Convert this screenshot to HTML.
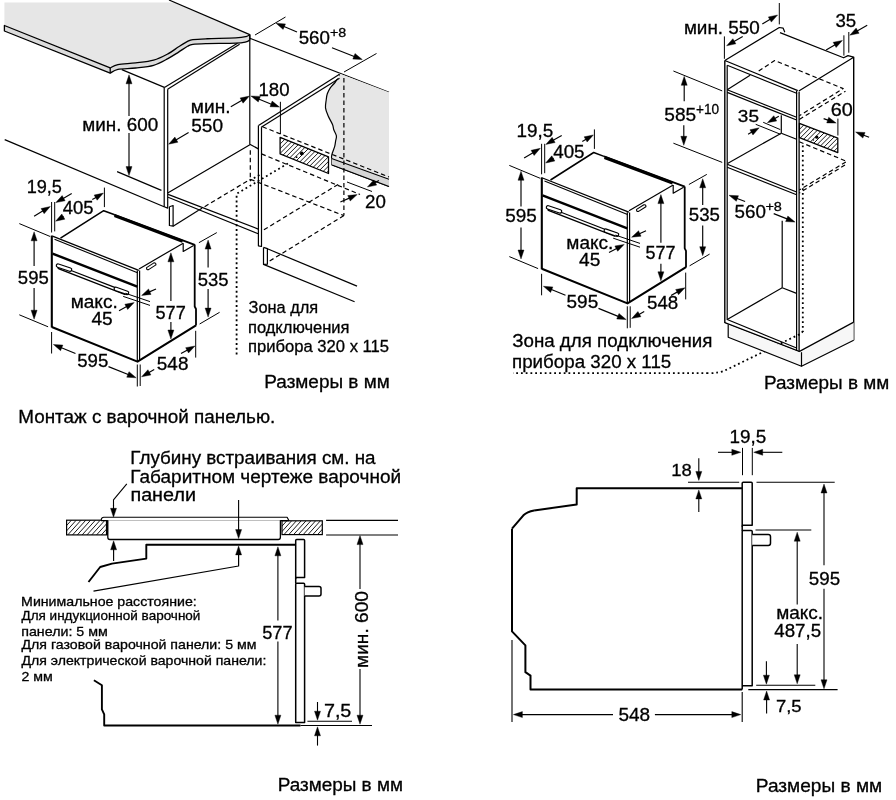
<!DOCTYPE html>
<html><head><meta charset="utf-8"><style>
html,body{margin:0;padding:0;background:#fff;}
svg{display:block;will-change:transform;}
text{font-family:"Liberation Sans",sans-serif;fill:#000;stroke:#000;stroke-width:0.3px;}
</style></head><body>
<svg width="896" height="800" viewBox="0 0 896 800">
<path d="M4.4,2.5 L174,2.5 L249.8,34.7 L249.8,34.7 C249.17,35.02 248.35,36.07 246,36.6 C243.65,37.13 242.18,37.54 235.7,37.9 C229.22,38.26 214.23,38.47 207.1,38.75 C199.97,39.03 196.17,39.16 192.9,39.6 C189.63,40.04 189.88,40.2 187.5,41.4 C185.12,42.6 181.87,44.72 178.6,46.8 C175.33,48.88 172.07,51.67 167.9,53.9 C163.73,56.13 158.97,58.7 153.6,60.2 C148.23,61.7 141.65,62.17 135.7,62.9 C129.75,63.63 122.15,63.77 117.9,64.6 C113.65,65.43 111.48,67.35 110.2,67.9 L4.4,25.5 Z" fill="#e6e6e6" stroke-linejoin="round"/>
<path d="M4.4,25.5 L110.2,67.9 L110.2,67.9 C111.48,67.35 113.65,65.43 117.9,64.6 C122.15,63.77 129.75,63.63 135.7,62.9 C141.65,62.17 148.23,61.7 153.6,60.2 C158.97,58.7 163.73,56.13 167.9,53.9 C172.07,51.67 175.33,48.88 178.6,46.8 C181.87,44.72 185.12,42.6 187.5,41.4 C189.88,40.2 189.63,40.04 192.9,39.6 C196.17,39.16 199.97,39.03 207.1,38.75 C214.23,38.47 229.22,38.26 235.7,37.9 C242.18,37.54 243.65,37.13 246,36.6 C248.35,36.07 249.17,35.02 249.8,34.7 L249.8,40 L249.8,40 C249.17,40.32 248.35,41.37 246,41.9 C243.65,42.43 242.18,42.92 235.7,43.2 C229.22,43.48 214.23,43.42 207.1,43.6 C199.97,43.78 196.17,43.85 192.9,44.3 C189.63,44.75 189.88,45 187.5,46.3 C185.12,47.6 181.87,50.05 178.6,52.1 C175.33,54.15 172.07,56.4 167.9,58.6 C163.73,60.8 158.97,63.73 153.6,65.3 C148.23,66.87 141.65,67.33 135.7,68 C129.75,68.67 122.15,68.43 117.9,69.3 C113.65,70.17 111.48,72.55 110.2,73.2 L4.4,31 Z" fill="#dcdcdc" stroke="#000" stroke-width="1.3" stroke-linejoin="round"/>
<polyline points="110.2,67.9 110.2,73.2" fill="none" stroke="#000" stroke-width="1.3" stroke-linecap="butt" stroke-linejoin="round"/>
<polyline points="169,0 249.8,34.6" fill="none" stroke="#000" stroke-width="1.2" stroke-linecap="butt" stroke-linejoin="round"/>
<polyline points="121.8,69.6 164.4,87.4" fill="none" stroke="#000" stroke-width="1.2" stroke-linecap="butt" stroke-linejoin="round"/>
<polyline points="164.4,87.4 237.5,43.2" fill="none" stroke="#000" stroke-width="1.2" stroke-linecap="butt" stroke-linejoin="round"/>
<polyline points="167.6,89.2 239.6,44.2" fill="none" stroke="#000" stroke-width="1.2" stroke-linecap="butt" stroke-linejoin="round"/>
<polyline points="164.2,87.2 164.2,206.8 167.7,208.1 167.7,89.2" fill="none" stroke="#000" stroke-width="1.2" stroke-linecap="butt" stroke-linejoin="round"/>
<polyline points="169.4,206.8 173.1,205.5 173.1,226.2 169.4,225.5 169.4,206.8" fill="none" stroke="#000" stroke-width="1.2" stroke-linecap="butt" stroke-linejoin="round"/>
<polyline points="173.1,226.2 198.2,210.5" fill="none" stroke="#000" stroke-width="1.2" stroke-linecap="butt" stroke-linejoin="round"/>
<polyline points="198.2,210.5 250.3,179.3" fill="none" stroke="#000" stroke-width="1.2" stroke-linecap="butt" stroke-linejoin="round" stroke-dasharray="4.5,3"/>
<polyline points="4.7,139.6 164.1,206.8" fill="none" stroke="#000" stroke-width="1.2" stroke-linecap="butt" stroke-linejoin="round"/>
<polyline points="117.1,171.6 161.4,190.4" fill="none" stroke="#000" stroke-width="1.2" stroke-linecap="butt" stroke-linejoin="round"/>
<polyline points="167.7,193.1 250.3,144.5 258.3,148.9" fill="none" stroke="#000" stroke-width="1.2" stroke-linecap="butt" stroke-linejoin="round"/>
<polyline points="168.1,194.4 258.3,229.1" fill="none" stroke="#000" stroke-width="1.2" stroke-linecap="butt" stroke-linejoin="round"/>
<polyline points="168.1,197.3 258.3,233.8" fill="none" stroke="#000" stroke-width="1.2" stroke-linecap="butt" stroke-linejoin="round"/>
<polyline points="249.8,34.6 249.8,144.5" fill="none" stroke="#000" stroke-width="1.2" stroke-linecap="butt" stroke-linejoin="round"/>
<polyline points="250.3,150.3 250.3,179.3" fill="none" stroke="#000" stroke-width="1.2" stroke-linecap="butt" stroke-linejoin="round" stroke-dasharray="4.5,3"/>
<polyline points="249.8,38.2 389,92.2" fill="none" stroke="#000" stroke-width="1.2" stroke-linecap="butt" stroke-linejoin="round"/>
<path d="M339.4,73.6 L389,92.2 L389,178 L331.6,158.5 L331.6,158.5 C331.6,158.08 331.45,157 331.6,156 C331.75,155 331.98,154.1 332.5,152.5 C333.02,150.9 334.18,148.3 334.7,146.4 C335.22,144.5 335.32,142.85 335.6,141.1 C335.88,139.35 336.7,137.79 336.4,135.9 C336.1,134.01 334.45,131.65 333.8,129.75 C333.15,127.85 333.45,126.83 332.5,124.5 C331.55,122.17 329.27,118.52 328.1,115.75 C326.93,112.98 325.82,110.53 325.5,107.9 C325.18,105.28 325.9,102.35 326.2,100 C326.5,97.65 326.62,95.83 327.3,93.8 C327.98,91.77 328.93,89.8 330.3,87.8 C331.67,85.8 333.98,84.05 335.5,81.8 C337.02,79.55 338.75,75.55 339.4,74.3 Z" fill="#e6e6e6" stroke-linejoin="round"/>
<path d="M339.4,74.3 C338.75,75.55 337.02,79.55 335.5,81.8 C333.98,84.05 331.67,85.8 330.3,87.8 C328.93,89.8 327.98,91.77 327.3,93.8 C326.62,95.83 326.5,97.65 326.2,100 C325.9,102.35 325.18,105.28 325.5,107.9 C325.82,110.53 326.93,112.98 328.1,115.75 C329.27,118.52 331.55,122.17 332.5,124.5 C333.45,126.83 333.15,127.85 333.8,129.75 C334.45,131.65 336.1,134.01 336.4,135.9 C336.7,137.79 335.88,139.35 335.6,141.1 C335.32,142.85 335.22,144.5 334.7,146.4 C334.18,148.3 333.02,150.9 332.5,152.5 C331.98,154.1 331.75,155 331.6,156 C331.45,157 331.6,158.08 331.6,158.5" fill="none" stroke="#000" stroke-width="1.2" stroke-linejoin="round"/>
<polyline points="331.6,158.5 331.6,164.8 389,186.5" fill="none" stroke="#000" stroke-width="1.2" stroke-linecap="butt" stroke-linejoin="round"/>
<polygon points="331.6,158.5 389,179.2 389,186.5 331.6,164.8" fill="#d6d6d6" stroke-linejoin="round"/>
<polyline points="331.6,158.5 389,179.2" fill="none" stroke="#000" stroke-width="1.2" stroke-linecap="butt" stroke-linejoin="round"/>
<polyline points="332,165 389,186.5" fill="none" stroke="#000" stroke-width="1.2" stroke-linecap="butt" stroke-linejoin="round"/>
<polyline points="343.9,78 343.9,215.6" fill="none" stroke="#000" stroke-width="1.2" stroke-linecap="butt" stroke-linejoin="round" stroke-dasharray="4.5,3"/>
<polygon points="258.5,125.4 339,74.5 339,77.5 261.2,126.8" fill="#fff" stroke-linejoin="round"/>
<polyline points="258.5,125.4 339.5,74.2" fill="none" stroke="#000" stroke-width="1.2" stroke-linecap="butt" stroke-linejoin="round"/>
<polyline points="261.2,127.2 339.5,78.2" fill="none" stroke="#000" stroke-width="1.2" stroke-linecap="butt" stroke-linejoin="round"/>
<polyline points="258.4,125.4 258.4,245.8 261.5,246.5 261.5,127.2" fill="none" stroke="#000" stroke-width="1.2" stroke-linecap="butt" stroke-linejoin="round"/>
<polyline points="263.5,247.4 267.4,248.6 267.4,264.2 263.5,264.4 263.5,247.4" fill="none" stroke="#000" stroke-width="1.2" stroke-linecap="butt" stroke-linejoin="round"/>
<polyline points="267.4,248.8 357,286.1" fill="none" stroke="#000" stroke-width="1.2" stroke-linecap="butt" stroke-linejoin="round"/>
<polyline points="263.5,264.4 354.6,301.7" fill="none" stroke="#000" stroke-width="1.2" stroke-linecap="butt" stroke-linejoin="round"/>
<polyline points="262.5,126.8 389,177" fill="none" stroke="#000" stroke-width="1.2" stroke-linecap="butt" stroke-linejoin="round" stroke-dasharray="4.5,3"/>
<polyline points="261.5,153.9 360,194.5" fill="none" stroke="#000" stroke-width="1.2" stroke-linecap="butt" stroke-linejoin="round" stroke-dasharray="4.5,3"/>
<polyline points="250.3,179.3 343.9,215.6" fill="none" stroke="#000" stroke-width="1.2" stroke-linecap="butt" stroke-linejoin="round" stroke-dasharray="4.5,3"/>
<polyline points="338.1,184.4 262,231" fill="none" stroke="#000" stroke-width="1.2" stroke-linecap="butt" stroke-linejoin="round" stroke-dasharray="4.5,3"/>
<polyline points="343.9,215.6 267,262.6" fill="none" stroke="#000" stroke-width="1.2" stroke-linecap="butt" stroke-linejoin="round" stroke-dasharray="4.5,3"/>
<polyline points="288,163.4 236.6,193.8 236.6,357" fill="none" stroke="#000" stroke-width="1.8" stroke-linecap="butt" stroke-linejoin="round" stroke-dasharray="1.8,2.95"/>
<polyline points="249.7,180.6 262,173.5" fill="none" stroke="#000" stroke-width="1.8" stroke-linecap="butt" stroke-linejoin="round" stroke-dasharray="1.8,2.95"/>
<clipPath id="hc1"><polygon points="280.1,137.3 328.5,156.8 328.5,173.5 280.1,153.9"/></clipPath>
<g clip-path="url(#hc1)" stroke="#000" stroke-width="0.9"><line x1="230.00" y1="180" x2="280.00" y2="130"/><line x1="234.70" y1="180" x2="284.70" y2="130"/><line x1="239.40" y1="180" x2="289.40" y2="130"/><line x1="244.10" y1="180" x2="294.10" y2="130"/><line x1="248.80" y1="180" x2="298.80" y2="130"/><line x1="253.50" y1="180" x2="303.50" y2="130"/><line x1="258.20" y1="180" x2="308.20" y2="130"/><line x1="262.90" y1="180" x2="312.90" y2="130"/><line x1="267.60" y1="180" x2="317.60" y2="130"/><line x1="272.30" y1="180" x2="322.30" y2="130"/><line x1="277.00" y1="180" x2="327.00" y2="130"/><line x1="281.70" y1="180" x2="331.70" y2="130"/><line x1="286.40" y1="180" x2="336.40" y2="130"/><line x1="291.10" y1="180" x2="341.10" y2="130"/><line x1="295.80" y1="180" x2="345.80" y2="130"/><line x1="300.50" y1="180" x2="350.50" y2="130"/><line x1="305.20" y1="180" x2="355.20" y2="130"/><line x1="309.90" y1="180" x2="359.90" y2="130"/><line x1="314.60" y1="180" x2="364.60" y2="130"/><line x1="319.30" y1="180" x2="369.30" y2="130"/><line x1="324.00" y1="180" x2="374.00" y2="130"/><line x1="328.70" y1="180" x2="378.70" y2="130"/><line x1="333.40" y1="180" x2="383.40" y2="130"/><line x1="338.10" y1="180" x2="388.10" y2="130"/><line x1="342.80" y1="180" x2="392.80" y2="130"/><line x1="347.50" y1="180" x2="397.50" y2="130"/><line x1="352.20" y1="180" x2="402.20" y2="130"/><line x1="356.90" y1="180" x2="406.90" y2="130"/><line x1="361.60" y1="180" x2="411.60" y2="130"/><line x1="366.30" y1="180" x2="416.30" y2="130"/></g>
<polygon points="280.1,137.3 328.5,156.8 328.5,173.5 280.1,153.9" fill="none" stroke="#000" stroke-width="1.3" stroke-linejoin="round"/>
<circle cx="301.8" cy="153.4" r="1.9" fill="#000"/><circle cx="296.6" cy="157.2" r="0.9" fill="#000"/>
<polyline points="280.4,101.8 280.4,134" fill="none" stroke="#000" stroke-width="1.0" stroke-linecap="butt" stroke-linejoin="round"/>
<polygon points="250.9,96 260.38,96.39 258.25,102" fill="#000" stroke="#000" stroke-width="0.4" stroke-linejoin="round"/>
<polygon points="279.5,107.1 270.02,106.71 272.15,101.1" fill="#000" stroke="#000" stroke-width="0.4" stroke-linejoin="round"/>
<polyline points="258,98.7 272,104.4" fill="none" stroke="#000" stroke-width="1.1" stroke-linecap="butt" stroke-linejoin="round"/>
<text transform="translate(258.40,96.40) scale(1.0361,1)" font-size="18">180</text>
<polyline points="230.8,106.7 242.45,100.06" fill="none" stroke="#000" stroke-width="1.15" stroke-linecap="butt" stroke-linejoin="round"/>
<polygon points="249.4,96.1 243.07,103.16 240.1,97.95" fill="#000" stroke="#000" stroke-width="0.4" stroke-linejoin="round"/>
<polyline points="188.6,132.6 175.52,140.19" fill="none" stroke="#000" stroke-width="1.15" stroke-linecap="butt" stroke-linejoin="round"/>
<polygon points="168.6,144.2 174.88,137.09 177.89,142.28" fill="#000" stroke="#000" stroke-width="0.4" stroke-linejoin="round"/>
<text transform="translate(190.86,112.50) scale(1.0859,1)" font-size="17.6">мин.</text>
<text transform="translate(191.24,131.80) scale(1.0828,1)" font-size="17.6">550</text>
<polyline points="129,116 129,82.8" fill="none" stroke="#000" stroke-width="1.15" stroke-linecap="butt" stroke-linejoin="round"/>
<polygon points="129,74.8 132,83.8 126,83.8" fill="#000" stroke="#000" stroke-width="0.4" stroke-linejoin="round"/>
<polyline points="129,133 129,167.6" fill="none" stroke="#000" stroke-width="1.15" stroke-linecap="butt" stroke-linejoin="round"/>
<polygon points="129,175.6 126,166.6 132,166.6" fill="#000" stroke="#000" stroke-width="0.4" stroke-linejoin="round"/>
<text transform="translate(82.28,130.50) scale(1.0487,1)" font-size="18">мин. 600</text>
<polyline points="255,35 285.5,17" fill="none" stroke="#000" stroke-width="1.0" stroke-linecap="butt" stroke-linejoin="round"/>
<polyline points="344,72 376.5,53.5" fill="none" stroke="#000" stroke-width="1.0" stroke-linecap="butt" stroke-linejoin="round"/>
<polyline points="297,32 283.38,26.29" fill="none" stroke="#000" stroke-width="1.15" stroke-linecap="butt" stroke-linejoin="round"/>
<polygon points="276,23.2 285.46,23.91 283.14,29.45" fill="#000" stroke="#000" stroke-width="0.4" stroke-linejoin="round"/>
<polyline points="332,47.7 354.85,56.68" fill="none" stroke="#000" stroke-width="1.15" stroke-linecap="butt" stroke-linejoin="round"/>
<polygon points="362.3,59.6 352.83,59.1 355.02,53.52" fill="#000" stroke="#000" stroke-width="0.4" stroke-linejoin="round"/>
<text transform="translate(298.65,44.10) scale(1.0298,1)" font-size="18.2">560</text>
<text transform="translate(329.89,36.70) scale(1.0582,1)" font-size="13.5">+8</text>
<polyline points="347,182 372,191.5" fill="none" stroke="#000" stroke-width="1.0" stroke-linecap="butt" stroke-linejoin="round"/>
<polyline points="340.4,202.1 349.89,197.86" fill="none" stroke="#000" stroke-width="1.15" stroke-linecap="butt" stroke-linejoin="round"/>
<polygon points="357.2,194.6 350.2,201.01 347.76,195.53" fill="#000" stroke="#000" stroke-width="0.4" stroke-linejoin="round"/>
<polyline points="378.9,180.4 374.34,183.02" fill="none" stroke="#000" stroke-width="1.15" stroke-linecap="butt" stroke-linejoin="round"/>
<polygon points="367.4,187 373.71,179.92 376.7,185.12" fill="#000" stroke="#000" stroke-width="0.4" stroke-linejoin="round"/>
<text transform="translate(365.06,208.00) scale(1.0407,1)" font-size="18">20</text>
<polygon points="51.8,236.3 60.5,238 103.7,210.7 194.8,244.9 196,325.4 137.5,361.6 51.8,327" fill="#fff" stroke-linejoin="round"/>
<polyline points="51.8,235.5 51.8,327.5" fill="none" stroke="#000" stroke-width="2.1" stroke-linecap="butt" stroke-linejoin="round"/>
<polyline points="51.8,327 137.5,361.6 196,325.4" fill="none" stroke="#000" stroke-width="2.1" stroke-linecap="butt" stroke-linejoin="round"/>
<polyline points="52.5,236.2 138.8,270.4" fill="none" stroke="#000" stroke-width="1.3" stroke-linecap="butt" stroke-linejoin="round"/>
<polyline points="54.5,239.2 137.5,272.7" fill="none" stroke="#000" stroke-width="1.1" stroke-linecap="butt" stroke-linejoin="round"/>
<polyline points="52.5,253.6 137.3,286.6" fill="none" stroke="#000" stroke-width="2.4" stroke-linecap="butt" stroke-linejoin="round"/>
<polyline points="137.3,270.4 137.3,361.6" fill="none" stroke="#000" stroke-width="1.2" stroke-linecap="butt" stroke-linejoin="round"/>
<polyline points="139.6,270.6 139.6,360.4" fill="none" stroke="#000" stroke-width="1.2" stroke-linecap="butt" stroke-linejoin="round"/>
<polyline points="60.5,238.2 103.7,210.7 114,214.57" fill="none" stroke="#000" stroke-width="1.5" stroke-linecap="butt" stroke-linejoin="round"/>
<polyline points="114,214.57 194.8,244.9" fill="none" stroke="#000" stroke-width="1.9" stroke-linecap="butt" stroke-linejoin="round"/>
<polyline points="114.5,215.7 182.6,241.3" fill="none" stroke="#000" stroke-width="3.0" stroke-linecap="butt" stroke-linejoin="round"/>
<polyline points="183.2,243.2 183.2,251.4 193.6,245.4" fill="none" stroke="#000" stroke-width="1.2" stroke-linecap="butt" stroke-linejoin="round"/>
<polyline points="139,268.9 183.2,243.2" fill="none" stroke="#000" stroke-width="1.2" stroke-linecap="butt" stroke-linejoin="round"/>
<polyline points="194.7,244.6 194.7,306.5 196,309 196,325.6" fill="none" stroke="#000" stroke-width="1.8" stroke-linecap="butt" stroke-linejoin="round"/>
<path d="M146.6,267.6 l7.3,-4.7 q2,-0.2 2,1.4 v0.6 l-7.3,4.7 q-2,0.4 -2,-1.2 z" fill="#fff" stroke="#000" stroke-width="1.1" stroke-linejoin="round"/>
<polyline points="59.5,267.6 124.6,292.8" fill="none" stroke="#000" stroke-width="4.2" stroke-linecap="round" stroke-linejoin="round"/>
<polyline points="60.3,267.8 123.8,292.4" fill="none" stroke="#fff" stroke-width="1.6" stroke-linecap="round" stroke-linejoin="round"/>
<polyline points="58,265.6 70,269.6" fill="none" stroke="#000" stroke-width="4.6" stroke-linecap="round" stroke-linejoin="round"/>
<polyline points="58,265.6 70,269.6" fill="none" stroke="#fff" stroke-width="2.2" stroke-linecap="round" stroke-linejoin="round"/>
<polyline points="115.8,288.9 127,292.8" fill="none" stroke="#000" stroke-width="4.6" stroke-linecap="round" stroke-linejoin="round"/>
<polyline points="115.8,288.9 127,292.8" fill="none" stroke="#fff" stroke-width="2.2" stroke-linecap="round" stroke-linejoin="round"/>
<polyline points="125.5,293.3 150,301.6" fill="none" stroke="#000" stroke-width="1.0" stroke-linecap="butt" stroke-linejoin="round"/>
<polyline points="123.2,296.4 150,305.4" fill="none" stroke="#000" stroke-width="1.0" stroke-linecap="butt" stroke-linejoin="round"/>
<polyline points="156,288.9 148.89,292.11" fill="none" stroke="#000" stroke-width="1.15" stroke-linecap="butt" stroke-linejoin="round"/>
<polygon points="141.6,295.4 148.57,288.96 151.04,294.43" fill="#000" stroke="#000" stroke-width="0.4" stroke-linejoin="round"/>
<polyline points="119,310.7 127.14,306.36" fill="none" stroke="#000" stroke-width="1.15" stroke-linecap="butt" stroke-linejoin="round"/>
<polygon points="134.2,302.6 127.67,309.48 124.85,304.19" fill="#000" stroke="#000" stroke-width="0.4" stroke-linejoin="round"/>
<text transform="translate(70.67,308.10) scale(1.0295,1)" font-size="18.5">макс.</text>
<text transform="translate(91.42,325.20) scale(1.0877,1)" font-size="17.6">45</text>
<polyline points="51.6,202 51.6,232.5" fill="none" stroke="#000" stroke-width="1.0" stroke-linecap="butt" stroke-linejoin="round"/>
<polyline points="54.7,202 54.7,231.4" fill="none" stroke="#000" stroke-width="1.0" stroke-linecap="butt" stroke-linejoin="round"/>
<polyline points="34.1,216.2 43.44,210.61" fill="none" stroke="#000" stroke-width="1.15" stroke-linecap="butt" stroke-linejoin="round"/>
<polygon points="50.3,206.5 44.12,213.7 41.04,208.55" fill="#000" stroke="#000" stroke-width="0.4" stroke-linejoin="round"/>
<polyline points="71.7,193.6 62.76,198.66" fill="none" stroke="#000" stroke-width="1.15" stroke-linecap="butt" stroke-linejoin="round"/>
<polygon points="55.8,202.6 62.15,195.56 65.11,200.78" fill="#000" stroke="#000" stroke-width="0.4" stroke-linejoin="round"/>
<text transform="translate(26.64,192.60) scale(1.0308,1)" font-size="17.6">19,5</text>
<polyline points="104.4,187.6 104.4,207.1" fill="none" stroke="#000" stroke-width="1.0" stroke-linecap="butt" stroke-linejoin="round"/>
<polyline points="92.3,199.6 96.5,197.14" fill="none" stroke="#000" stroke-width="1.15" stroke-linecap="butt" stroke-linejoin="round"/>
<polygon points="103.4,193.1 97.15,200.24 94.12,195.06" fill="#000" stroke="#000" stroke-width="0.4" stroke-linejoin="round"/>
<polyline points="63.5,216.5 62.48,217.11" fill="none" stroke="#000" stroke-width="1.15" stroke-linecap="butt" stroke-linejoin="round"/>
<polygon points="55.6,221.2 61.8,214.02 64.87,219.18" fill="#000" stroke="#000" stroke-width="0.4" stroke-linejoin="round"/>
<text transform="translate(62.83,214.20) scale(1.0479,1)" font-size="17.6">405</text>
<polyline points="19.3,223.6 50.2,236.5" fill="none" stroke="#000" stroke-width="1.0" stroke-linecap="butt" stroke-linejoin="round"/>
<polyline points="19.3,314.8 48.1,326.8" fill="none" stroke="#000" stroke-width="1.0" stroke-linecap="butt" stroke-linejoin="round"/>
<polyline points="34.1,266 34.1,239.8" fill="none" stroke="#000" stroke-width="1.15" stroke-linecap="butt" stroke-linejoin="round"/>
<polygon points="34.1,231.8 37.1,240.8 31.1,240.8" fill="#000" stroke="#000" stroke-width="0.4" stroke-linejoin="round"/>
<polyline points="34.1,288 34.1,311.2" fill="none" stroke="#000" stroke-width="1.15" stroke-linecap="butt" stroke-linejoin="round"/>
<polygon points="34.1,319.2 31.1,310.2 37.1,310.2" fill="#000" stroke="#000" stroke-width="0.4" stroke-linejoin="round"/>
<text transform="translate(17.86,284.00) scale(1.0539,1)" font-size="17.6">595</text>
<polyline points="51.6,332 51.6,353.5" fill="none" stroke="#000" stroke-width="1.0" stroke-linecap="butt" stroke-linejoin="round"/>
<polyline points="137.3,364.5 137.3,386.5" fill="none" stroke="#000" stroke-width="1.0" stroke-linecap="butt" stroke-linejoin="round"/>
<polyline points="140.2,364.5 140.2,386" fill="none" stroke="#000" stroke-width="1.0" stroke-linecap="butt" stroke-linejoin="round"/>
<polyline points="75.5,353.5 60.81,347.52" fill="none" stroke="#000" stroke-width="1.15" stroke-linecap="butt" stroke-linejoin="round"/>
<polygon points="53.4,344.5 62.87,345.12 60.6,350.67" fill="#000" stroke="#000" stroke-width="0.4" stroke-linejoin="round"/>
<polyline points="108.5,366.6 128.78,374.8" fill="none" stroke="#000" stroke-width="1.15" stroke-linecap="butt" stroke-linejoin="round"/>
<polygon points="136.2,377.8 126.73,377.21 128.98,371.65" fill="#000" stroke="#000" stroke-width="0.4" stroke-linejoin="round"/>
<text transform="translate(77.26,367.20) scale(1.0575,1)" font-size="17.6">595</text>
<polyline points="195.7,330.8 195.7,357.6" fill="none" stroke="#000" stroke-width="1.0" stroke-linecap="butt" stroke-linejoin="round"/>
<polyline points="154.2,369.6 148.55,372.83" fill="none" stroke="#000" stroke-width="1.15" stroke-linecap="butt" stroke-linejoin="round"/>
<polygon points="141.6,376.8 147.93,369.73 150.9,374.94" fill="#000" stroke="#000" stroke-width="0.4" stroke-linejoin="round"/>
<polyline points="181,353.6 187.97,349.82" fill="none" stroke="#000" stroke-width="1.15" stroke-linecap="butt" stroke-linejoin="round"/>
<polygon points="195,346 188.52,352.93 185.66,347.66" fill="#000" stroke="#000" stroke-width="0.4" stroke-linejoin="round"/>
<text transform="translate(156.84,370.20) scale(1.0754,1)" font-size="17.6">548</text>
<polyline points="198.9,242.7 216.8,232.6" fill="none" stroke="#000" stroke-width="1.0" stroke-linecap="butt" stroke-linejoin="round"/>
<polyline points="199.6,324 219.6,312.3" fill="none" stroke="#000" stroke-width="1.0" stroke-linecap="butt" stroke-linejoin="round"/>
<polyline points="208.1,267.6 208.1,248.1" fill="none" stroke="#000" stroke-width="1.15" stroke-linecap="butt" stroke-linejoin="round"/>
<polygon points="208.1,240.1 211.1,249.1 205.1,249.1" fill="#000" stroke="#000" stroke-width="0.4" stroke-linejoin="round"/>
<polyline points="208.1,289 208.1,309.1" fill="none" stroke="#000" stroke-width="1.15" stroke-linecap="butt" stroke-linejoin="round"/>
<polygon points="208.1,317.1 205.1,308.1 211.1,308.1" fill="#000" stroke="#000" stroke-width="0.4" stroke-linejoin="round"/>
<text transform="translate(197.76,285.50) scale(1.0503,1)" font-size="17.6">535</text>
<polyline points="170.9,301 170.9,260.8" fill="none" stroke="#000" stroke-width="1.15" stroke-linecap="butt" stroke-linejoin="round"/>
<polygon points="170.9,252.8 173.9,261.8 167.9,261.8" fill="#000" stroke="#000" stroke-width="0.4" stroke-linejoin="round"/>
<polyline points="170.9,322 170.9,331" fill="none" stroke="#000" stroke-width="1.15" stroke-linecap="butt" stroke-linejoin="round"/>
<polygon points="170.9,339 167.9,330 173.9,330" fill="#000" stroke="#000" stroke-width="0.4" stroke-linejoin="round"/>
<text transform="translate(155.47,318.60) scale(1.0317,1)" font-size="17.6">577</text>
<text transform="translate(248.53,313.10) scale(1.0055,1)" font-size="16.3">Зона для</text>
<text transform="translate(247.94,332.50) scale(1.0138,1)" font-size="16.3">подключения</text>
<text transform="translate(247.94,351.90) scale(1.0207,1)" font-size="16.3">прибора 320 x 115</text>
<text transform="translate(264.28,388.30) scale(1.0544,1)" font-size="18">Размеры в мм</text>
<polyline points="724.8,60.5 779.3,27.5 783.2,28.2 784.8,32.2" fill="none" stroke="#000" stroke-width="1.2" stroke-linecap="butt" stroke-linejoin="round"/>
<polyline points="780,32.6 843.6,57.8 848,55.6 853.7,57.2 798.8,91" fill="none" stroke="#000" stroke-width="1.2" stroke-linecap="butt" stroke-linejoin="round"/>
<polyline points="724.8,60.5 797.8,90.6" fill="none" stroke="#000" stroke-width="1.3" stroke-linecap="butt" stroke-linejoin="round"/>
<polyline points="727.2,65.3 797.2,93.6" fill="none" stroke="#000" stroke-width="1.1" stroke-linecap="butt" stroke-linejoin="round"/>
<polyline points="724.8,60.5 724.8,323" fill="none" stroke="#000" stroke-width="1.4" stroke-linecap="butt" stroke-linejoin="round"/>
<polyline points="727.2,65.3 727.2,320" fill="none" stroke="#000" stroke-width="1.2" stroke-linecap="butt" stroke-linejoin="round"/>
<polyline points="796.6,91 796.6,351" fill="none" stroke="#000" stroke-width="1.2" stroke-linecap="butt" stroke-linejoin="round"/>
<polyline points="799.1,91.8 799.1,351.6" fill="none" stroke="#000" stroke-width="1.3" stroke-linecap="butt" stroke-linejoin="round"/>
<polyline points="853.7,57.2 853.7,340.2" fill="none" stroke="#000" stroke-width="1.4" stroke-linecap="butt" stroke-linejoin="round"/>
<polyline points="727.2,89.7 796.6,117.3" fill="none" stroke="#000" stroke-width="1.2" stroke-linecap="butt" stroke-linejoin="round"/>
<polyline points="727.2,92.4 796.6,120" fill="none" stroke="#000" stroke-width="1.2" stroke-linecap="butt" stroke-linejoin="round"/>
<polyline points="727.2,89.7 750.1,75.2" fill="none" stroke="#000" stroke-width="1.2" stroke-linecap="butt" stroke-linejoin="round"/>
<polyline points="758.7,71.1 774.7,60.5 843.2,88.6 799.3,115.8" fill="none" stroke="#000" stroke-width="1.2" stroke-linecap="butt" stroke-linejoin="round" stroke-dasharray="4.5,3"/>
<polyline points="799.3,119.4 845.5,91.2" fill="none" stroke="#000" stroke-width="1.2" stroke-linecap="butt" stroke-linejoin="round" stroke-dasharray="4.5,3"/>
<polyline points="781.3,115.3 781.3,133.2" fill="none" stroke="#000" stroke-width="1.2" stroke-linecap="butt" stroke-linejoin="round"/>
<polyline points="781.3,133.2 796.6,139.3" fill="none" stroke="#000" stroke-width="1.2" stroke-linecap="butt" stroke-linejoin="round"/>
<polyline points="727.5,163.4 781.3,133.2" fill="none" stroke="#000" stroke-width="1.2" stroke-linecap="butt" stroke-linejoin="round"/>
<polyline points="727.2,164.2 796.6,192" fill="none" stroke="#000" stroke-width="1.2" stroke-linecap="butt" stroke-linejoin="round"/>
<polyline points="727.2,167.3 796.6,194.8" fill="none" stroke="#000" stroke-width="1.2" stroke-linecap="butt" stroke-linejoin="round"/>
<polyline points="763.2,122.3 780.3,129.6" fill="none" stroke="#000" stroke-width="1.0" stroke-linecap="butt" stroke-linejoin="round"/>
<polyline points="755.7,124.3 780.3,134.2" fill="none" stroke="#000" stroke-width="1.0" stroke-linecap="butt" stroke-linejoin="round"/>
<polyline points="778.8,116.3 774.38,118.78" fill="none" stroke="#000" stroke-width="1.15" stroke-linecap="butt" stroke-linejoin="round"/>
<polygon points="767.4,122.7 773.78,115.68 776.72,120.91" fill="#000" stroke="#000" stroke-width="0.4" stroke-linejoin="round"/>
<polyline points="748.1,134.3 752.3,131.84" fill="none" stroke="#000" stroke-width="1.15" stroke-linecap="butt" stroke-linejoin="round"/>
<polygon points="759.2,127.8 752.95,134.94 749.92,129.76" fill="#000" stroke="#000" stroke-width="0.4" stroke-linejoin="round"/>
<text transform="translate(737.84,121.80) scale(1.1063,1)" font-size="17.2">35</text>
<clipPath id="hc2"><polygon points="799.4,123.4 837.8,138.2 837.8,152.6 799.4,137.6"/></clipPath>
<g clip-path="url(#hc2)" stroke="#000" stroke-width="0.9"><line x1="750.00" y1="160" x2="800.00" y2="110"/><line x1="754.70" y1="160" x2="804.70" y2="110"/><line x1="759.40" y1="160" x2="809.40" y2="110"/><line x1="764.10" y1="160" x2="814.10" y2="110"/><line x1="768.80" y1="160" x2="818.80" y2="110"/><line x1="773.50" y1="160" x2="823.50" y2="110"/><line x1="778.20" y1="160" x2="828.20" y2="110"/><line x1="782.90" y1="160" x2="832.90" y2="110"/><line x1="787.60" y1="160" x2="837.60" y2="110"/><line x1="792.30" y1="160" x2="842.30" y2="110"/><line x1="797.00" y1="160" x2="847.00" y2="110"/><line x1="801.70" y1="160" x2="851.70" y2="110"/><line x1="806.40" y1="160" x2="856.40" y2="110"/><line x1="811.10" y1="160" x2="861.10" y2="110"/><line x1="815.80" y1="160" x2="865.80" y2="110"/><line x1="820.50" y1="160" x2="870.50" y2="110"/><line x1="825.20" y1="160" x2="875.20" y2="110"/><line x1="829.90" y1="160" x2="879.90" y2="110"/><line x1="834.60" y1="160" x2="884.60" y2="110"/><line x1="839.30" y1="160" x2="889.30" y2="110"/><line x1="844.00" y1="160" x2="894.00" y2="110"/><line x1="848.70" y1="160" x2="898.70" y2="110"/><line x1="853.40" y1="160" x2="903.40" y2="110"/><line x1="858.10" y1="160" x2="908.10" y2="110"/><line x1="862.80" y1="160" x2="912.80" y2="110"/><line x1="867.50" y1="160" x2="917.50" y2="110"/><line x1="872.20" y1="160" x2="922.20" y2="110"/><line x1="876.90" y1="160" x2="926.90" y2="110"/><line x1="881.60" y1="160" x2="931.60" y2="110"/><line x1="886.30" y1="160" x2="936.30" y2="110"/></g>
<polygon points="799.4,123.4 837.8,138.2 837.8,152.6 799.4,137.6" fill="none" stroke="#000" stroke-width="1.3" stroke-linejoin="round"/>
<circle cx="816.8" cy="137.2" r="1.6" fill="#000"/><circle cx="813.4" cy="140" r="0.8" fill="#000"/>
<polyline points="799.3,141.8 846.8,161.4 799.3,190" fill="none" stroke="#000" stroke-width="1.2" stroke-linecap="butt" stroke-linejoin="round" stroke-dasharray="4.5,3"/>
<polyline points="845,165 799.3,193" fill="none" stroke="#000" stroke-width="1.2" stroke-linecap="butt" stroke-linejoin="round" stroke-dasharray="4.5,3"/>
<polyline points="802.8,145.4 802.8,332" fill="none" stroke="#000" stroke-width="1.8" stroke-linecap="butt" stroke-linejoin="round" stroke-dasharray="1.8,2.95"/>
<path d="M802.8,331 Q801.5,334 798,335 L727,369.5 Q720,373.3 708,373.2" fill="none" stroke="#000" stroke-width="1.8" stroke-linejoin="round" stroke-dasharray="1.8,2.95"/>
<polyline points="708,373.2 513,373.2" fill="none" stroke="#000" stroke-width="1.8" stroke-linecap="butt" stroke-linejoin="round" stroke-dasharray="1.8,2.95"/>
<polyline points="837.9,118.6 837.9,135.5" fill="none" stroke="#000" stroke-width="1.0" stroke-linecap="butt" stroke-linejoin="round"/>
<polyline points="823.6,118.6 828.67,120.41" fill="none" stroke="#000" stroke-width="1.15" stroke-linecap="butt" stroke-linejoin="round"/>
<polygon points="836.2,123.1 826.72,122.9 828.73,117.25" fill="#000" stroke="#000" stroke-width="0.4" stroke-linejoin="round"/>
<polyline points="869.1,137.3 863.05,134.92" fill="none" stroke="#000" stroke-width="1.15" stroke-linecap="butt" stroke-linejoin="round"/>
<polygon points="855.6,132 865.07,132.5 862.88,138.08" fill="#000" stroke="#000" stroke-width="0.4" stroke-linejoin="round"/>
<text transform="translate(830.81,115.90) scale(1.1253,1)" font-size="17.6">60</text>
<polyline points="782.2,220.7 782.2,287.8" fill="none" stroke="#000" stroke-width="1.2" stroke-linecap="butt" stroke-linejoin="round"/>
<polyline points="782.2,287.8 796.6,293.4" fill="none" stroke="#000" stroke-width="1.2" stroke-linecap="butt" stroke-linejoin="round"/>
<polyline points="782.2,287.8 727.2,319.4" fill="none" stroke="#000" stroke-width="1.2" stroke-linecap="butt" stroke-linejoin="round"/>
<polyline points="724.8,322.6 799.1,351.4" fill="none" stroke="#000" stroke-width="1.3" stroke-linecap="butt" stroke-linejoin="round"/>
<polyline points="727.2,319.6 796.6,348" fill="none" stroke="#000" stroke-width="1.1" stroke-linecap="butt" stroke-linejoin="round"/>
<polygon points="728.2,325 799.1,352.5 801.5,352.2 853.7,322.1 853.7,340.2 801.5,366.3 728.2,337.2" fill="#f7f7f7" stroke-linejoin="round"/>
<polyline points="728.2,324.6 728.2,337.2 801.5,366.3 853.7,340.2" fill="none" stroke="#000" stroke-width="1.2" stroke-linecap="butt" stroke-linejoin="round"/>
<polyline points="801.5,352.2 801.5,366.3" fill="none" stroke="#000" stroke-width="1.2" stroke-linecap="butt" stroke-linejoin="round"/>
<polyline points="799.1,351.6 853.7,322.1" fill="none" stroke="#000" stroke-width="1.2" stroke-linecap="butt" stroke-linejoin="round"/>
<polyline points="724.4,36.4 724.4,58.8" fill="none" stroke="#000" stroke-width="1.0" stroke-linecap="butt" stroke-linejoin="round"/>
<polyline points="779.3,3 779.3,24.4" fill="none" stroke="#000" stroke-width="1.0" stroke-linecap="butt" stroke-linejoin="round"/>
<polyline points="742.7,36.4 733.51,41.77" fill="none" stroke="#000" stroke-width="1.15" stroke-linecap="butt" stroke-linejoin="round"/>
<polygon points="726.6,45.8 732.86,38.67 735.88,43.85" fill="#000" stroke="#000" stroke-width="0.4" stroke-linejoin="round"/>
<polyline points="762.3,23.9 770.68,19.02" fill="none" stroke="#000" stroke-width="1.15" stroke-linecap="butt" stroke-linejoin="round"/>
<polygon points="777.6,15 771.33,22.12 768.31,16.93" fill="#000" stroke="#000" stroke-width="0.4" stroke-linejoin="round"/>
<text transform="translate(683.88,33.70) scale(1.0273,1)" font-size="18.4">мин. 550</text>
<polyline points="843.9,35.3 843.9,55.6" fill="none" stroke="#000" stroke-width="1.0" stroke-linecap="butt" stroke-linejoin="round"/>
<polyline points="848.8,32 848.8,52.7" fill="none" stroke="#000" stroke-width="1.0" stroke-linecap="butt" stroke-linejoin="round"/>
<polyline points="826.1,49.9 835.49,44.43" fill="none" stroke="#000" stroke-width="1.15" stroke-linecap="butt" stroke-linejoin="round"/>
<polygon points="842.4,40.4 836.13,47.52 833.11,42.34" fill="#000" stroke="#000" stroke-width="0.4" stroke-linejoin="round"/>
<polyline points="867.2,25.2 856.74,31.21" fill="none" stroke="#000" stroke-width="1.15" stroke-linecap="butt" stroke-linejoin="round"/>
<polygon points="849.8,35.2 856.11,28.11 859.1,33.32" fill="#000" stroke="#000" stroke-width="0.4" stroke-linejoin="round"/>
<text transform="translate(835.45,26.90) scale(1.0356,1)" font-size="18">35</text>
<polyline points="673.4,71 722.2,90.9" fill="none" stroke="#000" stroke-width="1.0" stroke-linecap="butt" stroke-linejoin="round"/>
<polyline points="673.4,143.2 722.2,162.4" fill="none" stroke="#000" stroke-width="1.0" stroke-linecap="butt" stroke-linejoin="round"/>
<polyline points="684.2,101.2 684.2,84.3" fill="none" stroke="#000" stroke-width="1.15" stroke-linecap="butt" stroke-linejoin="round"/>
<polygon points="684.2,76.3 687.2,85.3 681.2,85.3" fill="#000" stroke="#000" stroke-width="0.4" stroke-linejoin="round"/>
<polyline points="683.8,125.3 683.8,137.3" fill="none" stroke="#000" stroke-width="1.15" stroke-linecap="butt" stroke-linejoin="round"/>
<polygon points="683.8,145.3 680.8,136.3 686.8,136.3" fill="#000" stroke="#000" stroke-width="0.4" stroke-linejoin="round"/>
<text transform="translate(664.34,120.50) scale(1.0168,1)" font-size="18.8">585</text>
<text transform="translate(696.02,113.60) scale(0.9110,1)" font-size="15">+10</text>
<polyline points="745.1,201.5 736.47,198.17" fill="none" stroke="#000" stroke-width="1.15" stroke-linecap="butt" stroke-linejoin="round"/>
<polygon points="729,195.3 738.48,195.73 736.32,201.33" fill="#000" stroke="#000" stroke-width="0.4" stroke-linejoin="round"/>
<polyline points="773.7,213.6 787.67,219.15" fill="none" stroke="#000" stroke-width="1.15" stroke-linecap="butt" stroke-linejoin="round"/>
<polygon points="795.1,222.1 785.63,221.57 787.84,215.99" fill="#000" stroke="#000" stroke-width="0.4" stroke-linejoin="round"/>
<text transform="translate(734.55,218.00) scale(1.0110,1)" font-size="18.6">560</text>
<text transform="translate(765.38,210.90) scale(1.0567,1)" font-size="13.7">+8</text>
<polygon points="541.8,178.1 550.5,179.8 593.7,152.5 684.8,186.7 686,267.2 627.5,303.4 541.8,268.8" fill="#fff" stroke-linejoin="round"/>
<polyline points="541.8,177.3 541.8,269.3" fill="none" stroke="#000" stroke-width="2.1" stroke-linecap="butt" stroke-linejoin="round"/>
<polyline points="541.8,268.8 627.5,303.4 686,267.2" fill="none" stroke="#000" stroke-width="2.1" stroke-linecap="butt" stroke-linejoin="round"/>
<polyline points="542.5,178 628.8,212.2" fill="none" stroke="#000" stroke-width="1.3" stroke-linecap="butt" stroke-linejoin="round"/>
<polyline points="544.5,181 627.5,214.5" fill="none" stroke="#000" stroke-width="1.1" stroke-linecap="butt" stroke-linejoin="round"/>
<polyline points="542.5,195.4 627.3,228.4" fill="none" stroke="#000" stroke-width="2.4" stroke-linecap="butt" stroke-linejoin="round"/>
<polyline points="627.3,212.2 627.3,303.4" fill="none" stroke="#000" stroke-width="1.2" stroke-linecap="butt" stroke-linejoin="round"/>
<polyline points="629.6,212.4 629.6,302.2" fill="none" stroke="#000" stroke-width="1.2" stroke-linecap="butt" stroke-linejoin="round"/>
<polyline points="550.5,180 593.7,152.5 604,156.37" fill="none" stroke="#000" stroke-width="1.5" stroke-linecap="butt" stroke-linejoin="round"/>
<polyline points="604,156.37 684.8,186.7" fill="none" stroke="#000" stroke-width="1.9" stroke-linecap="butt" stroke-linejoin="round"/>
<polyline points="604.5,157.5 672.6,183.1" fill="none" stroke="#000" stroke-width="3.0" stroke-linecap="butt" stroke-linejoin="round"/>
<polyline points="673.2,185 673.2,193.2 683.6,187.2" fill="none" stroke="#000" stroke-width="1.2" stroke-linecap="butt" stroke-linejoin="round"/>
<polyline points="629,210.7 673.2,185" fill="none" stroke="#000" stroke-width="1.2" stroke-linecap="butt" stroke-linejoin="round"/>
<polyline points="684.7,186.4 684.7,248.3 686,250.8 686,267.4" fill="none" stroke="#000" stroke-width="1.8" stroke-linecap="butt" stroke-linejoin="round"/>
<path d="M636.6,209.4 l7.3,-4.7 q2,-0.2 2,1.4 v0.6 l-7.3,4.7 q-2,0.4 -2,-1.2 z" fill="#fff" stroke="#000" stroke-width="1.1" stroke-linejoin="round"/>
<polyline points="549.5,209.4 614.6,234.6" fill="none" stroke="#000" stroke-width="4.2" stroke-linecap="round" stroke-linejoin="round"/>
<polyline points="550.3,209.6 613.8,234.2" fill="none" stroke="#fff" stroke-width="1.6" stroke-linecap="round" stroke-linejoin="round"/>
<polyline points="548,207.4 560,211.4" fill="none" stroke="#000" stroke-width="4.6" stroke-linecap="round" stroke-linejoin="round"/>
<polyline points="548,207.4 560,211.4" fill="none" stroke="#fff" stroke-width="2.2" stroke-linecap="round" stroke-linejoin="round"/>
<polyline points="605.8,230.7 617,234.6" fill="none" stroke="#000" stroke-width="4.6" stroke-linecap="round" stroke-linejoin="round"/>
<polyline points="605.8,230.7 617,234.6" fill="none" stroke="#fff" stroke-width="2.2" stroke-linecap="round" stroke-linejoin="round"/>
<polyline points="615.5,235.1 640,243.4" fill="none" stroke="#000" stroke-width="1.0" stroke-linecap="butt" stroke-linejoin="round"/>
<polyline points="613.2,238.2 640,247.2" fill="none" stroke="#000" stroke-width="1.0" stroke-linecap="butt" stroke-linejoin="round"/>
<polyline points="646,230.7 638.89,233.91" fill="none" stroke="#000" stroke-width="1.15" stroke-linecap="butt" stroke-linejoin="round"/>
<polygon points="631.6,237.2 638.57,230.76 641.04,236.23" fill="#000" stroke="#000" stroke-width="0.4" stroke-linejoin="round"/>
<polyline points="609,252.5 617.14,248.16" fill="none" stroke="#000" stroke-width="1.15" stroke-linecap="butt" stroke-linejoin="round"/>
<polygon points="624.2,244.4 617.67,251.28 614.85,245.99" fill="#000" stroke="#000" stroke-width="0.4" stroke-linejoin="round"/>
<text transform="translate(566.37,248.70) scale(1.0295,1)" font-size="18.5">макс.</text>
<text transform="translate(579.02,265.80) scale(1.0877,1)" font-size="17.6">45</text>
<polyline points="541.6,143.8 541.6,174.3" fill="none" stroke="#000" stroke-width="1.0" stroke-linecap="butt" stroke-linejoin="round"/>
<polyline points="544.7,143.8 544.7,173.2" fill="none" stroke="#000" stroke-width="1.0" stroke-linecap="butt" stroke-linejoin="round"/>
<polyline points="524.1,158 533.44,152.41" fill="none" stroke="#000" stroke-width="1.15" stroke-linecap="butt" stroke-linejoin="round"/>
<polygon points="540.3,148.3 534.12,155.5 531.04,150.35" fill="#000" stroke="#000" stroke-width="0.4" stroke-linejoin="round"/>
<polyline points="561.7,135.4 552.76,140.46" fill="none" stroke="#000" stroke-width="1.15" stroke-linecap="butt" stroke-linejoin="round"/>
<polygon points="545.8,144.4 552.15,137.36 555.11,142.58" fill="#000" stroke="#000" stroke-width="0.4" stroke-linejoin="round"/>
<text transform="translate(516.48,136.80) scale(1.0743,1)" font-size="17.6">19,5</text>
<polyline points="594.4,129.4 594.4,148.9" fill="none" stroke="#000" stroke-width="1.0" stroke-linecap="butt" stroke-linejoin="round"/>
<polyline points="582.3,141.4 586.5,138.94" fill="none" stroke="#000" stroke-width="1.15" stroke-linecap="butt" stroke-linejoin="round"/>
<polygon points="593.4,134.9 587.15,142.04 584.12,136.86" fill="#000" stroke="#000" stroke-width="0.4" stroke-linejoin="round"/>
<polyline points="553.5,158.3 552.48,158.91" fill="none" stroke="#000" stroke-width="1.15" stroke-linecap="butt" stroke-linejoin="round"/>
<polygon points="545.6,163 551.8,155.82 554.87,160.98" fill="#000" stroke="#000" stroke-width="0.4" stroke-linejoin="round"/>
<text transform="translate(553.22,158.00) scale(1.0656,1)" font-size="17.6">405</text>
<polyline points="509.3,165.4 540.2,178.3" fill="none" stroke="#000" stroke-width="1.0" stroke-linecap="butt" stroke-linejoin="round"/>
<polyline points="509.3,256.6 538.1,268.6" fill="none" stroke="#000" stroke-width="1.0" stroke-linecap="butt" stroke-linejoin="round"/>
<polyline points="521,206.5 521,179.25" fill="none" stroke="#000" stroke-width="1.15" stroke-linecap="butt" stroke-linejoin="round"/>
<polygon points="521,171.25 524,180.25 518,180.25" fill="#000" stroke="#000" stroke-width="0.4" stroke-linejoin="round"/>
<polyline points="521,227.5 521,251" fill="none" stroke="#000" stroke-width="1.15" stroke-linecap="butt" stroke-linejoin="round"/>
<polygon points="521,259 518,250 524,250" fill="#000" stroke="#000" stroke-width="0.4" stroke-linejoin="round"/>
<text transform="translate(505.24,222.25) scale(1.0754,1)" font-size="17.6">595</text>
<polyline points="541.6,273.8 541.6,295.3" fill="none" stroke="#000" stroke-width="1.0" stroke-linecap="butt" stroke-linejoin="round"/>
<polyline points="627.3,306.3 627.3,328.3" fill="none" stroke="#000" stroke-width="1.0" stroke-linecap="butt" stroke-linejoin="round"/>
<polyline points="630.2,306.3 630.2,327.8" fill="none" stroke="#000" stroke-width="1.0" stroke-linecap="butt" stroke-linejoin="round"/>
<polyline points="565.5,295.3 550.81,289.32" fill="none" stroke="#000" stroke-width="1.15" stroke-linecap="butt" stroke-linejoin="round"/>
<polygon points="543.4,286.3 552.87,286.92 550.6,292.47" fill="#000" stroke="#000" stroke-width="0.4" stroke-linejoin="round"/>
<polyline points="598.5,308.4 618.78,316.6" fill="none" stroke="#000" stroke-width="1.15" stroke-linecap="butt" stroke-linejoin="round"/>
<polygon points="626.2,319.6 616.73,319.01 618.98,313.45" fill="#000" stroke="#000" stroke-width="0.4" stroke-linejoin="round"/>
<text transform="translate(566.54,308.20) scale(1.0790,1)" font-size="17.6">595</text>
<polyline points="685.7,272.6 685.7,299.4" fill="none" stroke="#000" stroke-width="1.0" stroke-linecap="butt" stroke-linejoin="round"/>
<polyline points="644.2,311.4 638.55,314.63" fill="none" stroke="#000" stroke-width="1.15" stroke-linecap="butt" stroke-linejoin="round"/>
<polygon points="631.6,318.6 637.93,311.53 640.9,316.74" fill="#000" stroke="#000" stroke-width="0.4" stroke-linejoin="round"/>
<polyline points="671,295.4 677.97,291.62" fill="none" stroke="#000" stroke-width="1.15" stroke-linecap="butt" stroke-linejoin="round"/>
<polygon points="685,287.8 678.52,294.73 675.66,289.46" fill="#000" stroke="#000" stroke-width="0.4" stroke-linejoin="round"/>
<text transform="translate(647.05,308.90) scale(1.0647,1)" font-size="17.6">548</text>
<polyline points="688.9,184.5 706.8,174.4" fill="none" stroke="#000" stroke-width="1.0" stroke-linecap="butt" stroke-linejoin="round"/>
<polyline points="689.6,265.8 709.6,254.1" fill="none" stroke="#000" stroke-width="1.0" stroke-linecap="butt" stroke-linejoin="round"/>
<polyline points="702.7,204.9 702.7,186.75" fill="none" stroke="#000" stroke-width="1.15" stroke-linecap="butt" stroke-linejoin="round"/>
<polygon points="702.7,178.75 705.7,187.75 699.7,187.75" fill="#000" stroke="#000" stroke-width="0.4" stroke-linejoin="round"/>
<polyline points="702.7,225.5 702.7,247.7" fill="none" stroke="#000" stroke-width="1.15" stroke-linecap="butt" stroke-linejoin="round"/>
<polygon points="702.7,255.7 699.7,246.7 705.7,246.7" fill="#000" stroke="#000" stroke-width="0.4" stroke-linejoin="round"/>
<text transform="translate(688.85,220.70) scale(1.0611,1)" font-size="17.6">535</text>
<polyline points="660.9,242.8 660.9,202.6" fill="none" stroke="#000" stroke-width="1.15" stroke-linecap="butt" stroke-linejoin="round"/>
<polygon points="660.9,194.6 663.9,203.6 657.9,203.6" fill="#000" stroke="#000" stroke-width="0.4" stroke-linejoin="round"/>
<polyline points="660.9,263.8 660.9,272.8" fill="none" stroke="#000" stroke-width="1.15" stroke-linecap="butt" stroke-linejoin="round"/>
<polygon points="660.9,280.8 657.9,271.8 663.9,271.8" fill="#000" stroke="#000" stroke-width="0.4" stroke-linejoin="round"/>
<text transform="translate(645.58,259.10) scale(1.0209,1)" font-size="17.6">577</text>
<text transform="translate(512.14,347.40) scale(1.0028,1)" font-size="18.7">Зона для подключения</text>
<text transform="translate(511.99,367.50) scale(1.0032,1)" font-size="18.7">прибора 320 x 115</text>
<text transform="translate(764.09,388.60) scale(1.0510,1)" font-size="18">Размеры в мм</text>
<text transform="translate(18.24,422.60) scale(1.0105,1)" font-size="18.7">Монтаж с варочной панелью.</text>
<text transform="translate(130.30,464.10) scale(1.0169,1)" font-size="18.5">Глубину встраивания см. на</text>
<text transform="translate(130.28,482.60) scale(1.0270,1)" font-size="18.5">Габаритном чертеже варочной</text>
<text transform="translate(130.42,501.10) scale(1.0692,1)" font-size="18.5">панели</text>
<polyline points="126.8,483.8 113.5,499.8 113.5,506" fill="none" stroke="#000" stroke-width="1.1" stroke-linecap="butt" stroke-linejoin="round"/>
<polygon points="113.5,517.3 110.5,508.3 116.5,508.3" fill="#000" stroke="#000" stroke-width="0.4" stroke-linejoin="round"/>
<polyline points="113.5,505 113.5,510" fill="none" stroke="#000" stroke-width="1.1" stroke-linecap="butt" stroke-linejoin="round"/>
<clipPath id="hb1"><rect x="66.6" y="520.2" width="40.60000000000001" height="14.699999999999932"/></clipPath>
<g clip-path="url(#hb1)" stroke="#000" stroke-width="0.9"><line x1="53.37" y1="534.9" x2="66.60" y2="520.2"/><line x1="58.17" y1="534.9" x2="71.40" y2="520.2"/><line x1="62.97" y1="534.9" x2="76.20" y2="520.2"/><line x1="67.77" y1="534.9" x2="81.00" y2="520.2"/><line x1="72.57" y1="534.9" x2="85.80" y2="520.2"/><line x1="77.37" y1="534.9" x2="90.60" y2="520.2"/><line x1="82.17" y1="534.9" x2="95.40" y2="520.2"/><line x1="86.97" y1="534.9" x2="100.20" y2="520.2"/><line x1="91.77" y1="534.9" x2="105.00" y2="520.2"/><line x1="96.57" y1="534.9" x2="109.80" y2="520.2"/><line x1="101.37" y1="534.9" x2="114.60" y2="520.2"/><line x1="106.17" y1="534.9" x2="119.40" y2="520.2"/><line x1="110.97" y1="534.9" x2="124.20" y2="520.2"/><line x1="115.77" y1="534.9" x2="129.00" y2="520.2"/></g>
<rect x="66.6" y="520.2" width="40.60000000000001" height="14.699999999999932" fill="none" stroke="#000" stroke-width="1.2"/>
<clipPath id="hb2"><rect x="282.0" y="520.8" width="40.30000000000001" height="13.800000000000068"/></clipPath>
<g clip-path="url(#hb2)" stroke="#000" stroke-width="0.9"><line x1="269.58" y1="534.6" x2="282.00" y2="520.8"/><line x1="274.38" y1="534.6" x2="286.80" y2="520.8"/><line x1="279.18" y1="534.6" x2="291.60" y2="520.8"/><line x1="283.98" y1="534.6" x2="296.40" y2="520.8"/><line x1="288.78" y1="534.6" x2="301.20" y2="520.8"/><line x1="293.58" y1="534.6" x2="306.00" y2="520.8"/><line x1="298.38" y1="534.6" x2="310.80" y2="520.8"/><line x1="303.18" y1="534.6" x2="315.60" y2="520.8"/><line x1="307.98" y1="534.6" x2="320.40" y2="520.8"/><line x1="312.78" y1="534.6" x2="325.20" y2="520.8"/><line x1="317.58" y1="534.6" x2="330.00" y2="520.8"/><line x1="322.38" y1="534.6" x2="334.80" y2="520.8"/><line x1="327.18" y1="534.6" x2="339.60" y2="520.8"/></g>
<rect x="282.0" y="520.8" width="40.30000000000001" height="13.800000000000068" fill="none" stroke="#000" stroke-width="1.2"/>
<polyline points="326.1,520.4 398,520.4" fill="none" stroke="#000" stroke-width="1.2" stroke-linecap="butt" stroke-linejoin="round"/>
<polyline points="326.1,535 398,535" fill="none" stroke="#000" stroke-width="1.2" stroke-linecap="butt" stroke-linejoin="round"/>
<path d="M101.3,520.6 L101.3,519.4 Q101.6,517.2 103.8,517.2 L287.1,517.2 L288.9,520.6 Z" fill="#fff" stroke="#000" stroke-width="1.15" stroke-linejoin="round"/>
<path d="M107.8,520.3 L107.8,537.3 Q107.8,539.5 110,539.5 L278.2,539.5 Q280.4,539.5 280.4,537.3 L280.4,520.3" fill="#fff" stroke="#000" stroke-width="1.3" stroke-linejoin="round"/>
<polyline points="106.8,521 106.8,535" fill="none" stroke="#000" stroke-width="1.8" stroke-linecap="butt" stroke-linejoin="round"/>
<polyline points="113.6,561 113.6,548.8" fill="none" stroke="#000" stroke-width="1.15" stroke-linecap="butt" stroke-linejoin="round"/>
<polygon points="113.6,540.8 116.6,549.8 110.6,549.8" fill="#000" stroke="#000" stroke-width="0.4" stroke-linejoin="round"/>
<polyline points="238.6,500 238.6,531" fill="none" stroke="#000" stroke-width="1.1" stroke-linecap="butt" stroke-linejoin="round"/>
<polygon points="238.6,538.6 235.6,529.6 241.6,529.6" fill="#000" stroke="#000" stroke-width="0.4" stroke-linejoin="round"/>
<polyline points="88.5,582 100.2,567 112,563.6 146.3,558.6 146.3,544.8 295.6,544.8" fill="none" stroke="#000" stroke-width="1.9" stroke-linecap="butt" stroke-linejoin="round"/>
<polyline points="93.5,591.2 238.6,566 238.6,553" fill="none" stroke="#000" stroke-width="1.2" stroke-linecap="butt" stroke-linejoin="round"/>
<polygon points="238.6,545.9 241.6,554.9 235.6,554.9" fill="#000" stroke="#000" stroke-width="0.4" stroke-linejoin="round"/>
<path d="M295.7,540.5 Q295.7,539.5 296.7,539.5 L303.6,539.5 Q304.6,539.5 304.6,540.5 L304.6,577.4 L296.7,577.4 Q295.7,577.4 295.7,578.4 Z" fill="#fff" stroke="#000" stroke-width="1.5" stroke-linejoin="round"/>
<polyline points="295.7,578 295.7,583.5" fill="none" stroke="#000" stroke-width="1.5" stroke-linecap="butt" stroke-linejoin="round"/>
<path d="M295.7,722.6 L295.7,584.2 Q295.7,583.2 296.7,583.2 L303.6,583.2 Q304.6,583.2 304.6,584.2 L304.6,722.6 Z" fill="#fff" stroke="#000" stroke-width="1.5" stroke-linejoin="round"/>
<path d="M304.6,586.5 L319,586.5 Q321,586.5 321,588.5 L321,594 Q321,596 319,596 L304.6,596" fill="#fff" stroke="#000" stroke-width="1.5" stroke-linejoin="round"/>
<polyline points="93.9,680.3 101.9,685.2 101.9,709.4 104.2,714.3 104.2,725.5 300.5,725.5" fill="none" stroke="#000" stroke-width="1.9" stroke-linecap="butt" stroke-linejoin="round"/>
<polyline points="277.9,553 277.9,620.5" fill="none" stroke="#000" stroke-width="1.1" stroke-linecap="butt" stroke-linejoin="round"/>
<polygon points="277.9,546.8 280.9,555.8 274.9,555.8" fill="#000" stroke="#000" stroke-width="0.4" stroke-linejoin="round"/>
<polyline points="277.9,641.5 277.9,717" fill="none" stroke="#000" stroke-width="1.1" stroke-linecap="butt" stroke-linejoin="round"/>
<polygon points="277.9,724.2 274.9,715.2 280.9,715.2" fill="#000" stroke="#000" stroke-width="0.4" stroke-linejoin="round"/>
<text transform="translate(262.17,639.30) scale(0.9903,1)" font-size="18.4">577</text>
<polyline points="360,542 360,589" fill="none" stroke="#000" stroke-width="1.1" stroke-linecap="butt" stroke-linejoin="round"/>
<polygon points="360,535.6 363,544.6 357,544.6" fill="#000" stroke="#000" stroke-width="0.4" stroke-linejoin="round"/>
<polyline points="360,669 360,717" fill="none" stroke="#000" stroke-width="1.1" stroke-linecap="butt" stroke-linejoin="round"/>
<polygon points="360,724.2 357,715.2 363,715.2" fill="#000" stroke="#000" stroke-width="0.4" stroke-linejoin="round"/>
<text transform="translate(367.80,667.94) rotate(-90) scale(1.0384,1)" font-size="18.4">мин. 600</text>
<polyline points="307.4,721.2 352,721.2" fill="none" stroke="#000" stroke-width="1.1" stroke-linecap="butt" stroke-linejoin="round"/>
<polyline points="300.5,725.5 372,725.5" fill="none" stroke="#000" stroke-width="1.1" stroke-linecap="butt" stroke-linejoin="round"/>
<polyline points="317.5,702 317.5,713" fill="none" stroke="#000" stroke-width="1.1" stroke-linecap="butt" stroke-linejoin="round"/>
<polygon points="317.5,720.2 314.5,711.2 320.5,711.2" fill="#000" stroke="#000" stroke-width="0.4" stroke-linejoin="round"/>
<polyline points="317.5,745.6 317.5,735" fill="none" stroke="#000" stroke-width="1.1" stroke-linecap="butt" stroke-linejoin="round"/>
<polygon points="317.5,726.8 320.5,735.8 314.5,735.8" fill="#000" stroke="#000" stroke-width="0.4" stroke-linejoin="round"/>
<text transform="translate(323.91,716.60) scale(1.1233,1)" font-size="17.6">7,5</text>
<text transform="translate(21.07,606.40) scale(1.1255,1)" font-size="12.6">Минимальное расстояние:</text>
<text transform="translate(21.53,619.80) scale(1.0731,1)" font-size="12.6">Для индукционной варочной</text>
<text transform="translate(21.20,635.50) scale(1.1304,1)" font-size="12.6">панели: 5 мм</text>
<text transform="translate(21.53,649.40) scale(1.1248,1)" font-size="12.6">Для газовой варочной панели: 5 мм</text>
<text transform="translate(21.53,665.20) scale(1.1201,1)" font-size="12.6">Для электрической варочной панели:</text>
<text transform="translate(21.49,680.70) scale(1.1240,1)" font-size="12.6">2 мм</text>
<text transform="translate(277.69,791.30) scale(1.0519,1)" font-size="18">Размеры в мм</text>
<polyline points="742.2,488.2 576.7,488.2 576.7,504.6 534.1,510.4" fill="none" stroke="#000" stroke-width="2" stroke-linecap="butt" stroke-linejoin="round"/>
<path d="M534.1,510.4 Q527,511.6 523.4,515.3 L512,528.7" fill="none" stroke="#000" stroke-width="2" stroke-linejoin="round"/>
<polyline points="512,528.7 512,631.4 525.4,645.4 525.4,672.2 530.5,675.6 530.5,689.4 742.2,689.4" fill="none" stroke="#000" stroke-width="2" stroke-linecap="butt" stroke-linejoin="round"/>
<path d="M742.2,483.2 Q742.2,482.2 743.2,482.2 L751.2,482.2 Q752.2,482.2 752.2,483.2 L752.2,525.3 L743.2,525.3 Q742.2,525.3 742.2,526.3 Z" fill="#fff" stroke="#000" stroke-width="1.5" stroke-linejoin="round"/>
<polyline points="742.2,525.5 742.2,531" fill="none" stroke="#000" stroke-width="1.5" stroke-linecap="butt" stroke-linejoin="round"/>
<path d="M742.2,689.4 L742.2,531.5 Q742.2,530.5 743.2,530.5 L751.2,530.5 Q752.2,530.5 752.2,531.5 L752.2,685.7 L742.2,685.7" fill="#fff" stroke="#000" stroke-width="1.5" stroke-linejoin="round"/>
<path d="M752.2,534.5 L768.3,534.5 Q770.5,534.5 770.5,536.7 L770.5,543.3 Q770.5,545.5 768.3,545.5 L752.2,545.5" fill="#fff" stroke="#000" stroke-width="1.5" stroke-linejoin="round"/>
<polyline points="688,482.3 739.2,482.3" fill="none" stroke="#000" stroke-width="1.1" stroke-linecap="butt" stroke-linejoin="round"/>
<polyline points="756.5,482.3 834.7,482.3" fill="none" stroke="#000" stroke-width="1.1" stroke-linecap="butt" stroke-linejoin="round"/>
<polyline points="698.8,458.3 698.8,473" fill="none" stroke="#000" stroke-width="1.1" stroke-linecap="butt" stroke-linejoin="round"/>
<polygon points="698.8,480.4 695.8,471.4 701.8,471.4" fill="#000" stroke="#000" stroke-width="0.4" stroke-linejoin="round"/>
<polyline points="698.8,512.1 698.8,497" fill="none" stroke="#000" stroke-width="1.1" stroke-linecap="butt" stroke-linejoin="round"/>
<polygon points="698.8,489.9 701.8,498.9 695.8,498.9" fill="#000" stroke="#000" stroke-width="0.4" stroke-linejoin="round"/>
<text transform="translate(671.21,476.20) scale(1.0751,1)" font-size="17.2">18</text>
<polyline points="742.5,447.9 742.5,475.2" fill="none" stroke="#000" stroke-width="1.0" stroke-linecap="butt" stroke-linejoin="round"/>
<polyline points="752.3,447.9 752.3,475.2" fill="none" stroke="#000" stroke-width="1.0" stroke-linecap="butt" stroke-linejoin="round"/>
<polyline points="718,452.3 733,452.3" fill="none" stroke="#000" stroke-width="1.1" stroke-linecap="butt" stroke-linejoin="round"/>
<polygon points="740.8,452.3 731.8,455.3 731.8,449.3" fill="#000" stroke="#000" stroke-width="0.4" stroke-linejoin="round"/>
<polyline points="782.3,452.3 761,452.3" fill="none" stroke="#000" stroke-width="1.1" stroke-linecap="butt" stroke-linejoin="round"/>
<polygon points="753.7,452.3 762.7,449.3 762.7,455.3" fill="#000" stroke="#000" stroke-width="0.4" stroke-linejoin="round"/>
<text transform="translate(729.38,442.90) scale(1.0504,1)" font-size="18">19,5</text>
<polyline points="824,565.3 824,491.5" fill="none" stroke="#000" stroke-width="1.1" stroke-linecap="butt" stroke-linejoin="round"/>
<polygon points="824,484 827,493 821,493" fill="#000" stroke="#000" stroke-width="0.4" stroke-linejoin="round"/>
<polyline points="824,588.7 824,681.5" fill="none" stroke="#000" stroke-width="1.1" stroke-linecap="butt" stroke-linejoin="round"/>
<polygon points="824,688.8 821,679.8 827,679.8" fill="#000" stroke="#000" stroke-width="0.4" stroke-linejoin="round"/>
<text transform="translate(808.85,584.70) scale(1.0330,1)" font-size="18.2">595</text>
<polyline points="755.5,530 811.3,530" fill="none" stroke="#000" stroke-width="1.1" stroke-linecap="butt" stroke-linejoin="round"/>
<polyline points="797.2,604.6 797.2,539.5" fill="none" stroke="#000" stroke-width="1.1" stroke-linecap="butt" stroke-linejoin="round"/>
<polygon points="797.2,532.2 800.2,541.2 794.2,541.2" fill="#000" stroke="#000" stroke-width="0.4" stroke-linejoin="round"/>
<polyline points="797.2,644 797.2,676.5" fill="none" stroke="#000" stroke-width="1.1" stroke-linecap="butt" stroke-linejoin="round"/>
<polygon points="797.2,683.8 794.2,674.8 800.2,674.8" fill="#000" stroke="#000" stroke-width="0.4" stroke-linejoin="round"/>
<text transform="translate(776.17,619.00) scale(1.0557,1)" font-size="18">макс.</text>
<text transform="translate(774.23,637.40) scale(1.0642,1)" font-size="17.6">487,5</text>
<polyline points="756.2,685.2 815.3,685.2" fill="none" stroke="#000" stroke-width="1.1" stroke-linecap="butt" stroke-linejoin="round"/>
<polyline points="748.3,689.6 837.6,689.6" fill="none" stroke="#000" stroke-width="1.1" stroke-linecap="butt" stroke-linejoin="round"/>
<polyline points="766.4,661.2 766.4,676.5" fill="none" stroke="#000" stroke-width="1.1" stroke-linecap="butt" stroke-linejoin="round"/>
<polygon points="766.4,684.2 763.4,675.2 769.4,675.2" fill="#000" stroke="#000" stroke-width="0.4" stroke-linejoin="round"/>
<polyline points="766.6,713.6 766.6,698.5" fill="none" stroke="#000" stroke-width="1.1" stroke-linecap="butt" stroke-linejoin="round"/>
<polygon points="766.6,691 769.6,700 763.6,700" fill="#000" stroke="#000" stroke-width="0.4" stroke-linejoin="round"/>
<text transform="translate(775.88,712.00) scale(1.0733,1)" font-size="17.2">7,5</text>
<polyline points="512,640 512,722" fill="none" stroke="#000" stroke-width="1.1" stroke-linecap="butt" stroke-linejoin="round"/>
<polyline points="742.2,692 742.2,722" fill="none" stroke="#000" stroke-width="1.1" stroke-linecap="butt" stroke-linejoin="round"/>
<polyline points="521,714.6 613,714.6" fill="none" stroke="#000" stroke-width="1.1" stroke-linecap="butt" stroke-linejoin="round"/>
<polygon points="513.4,714.6 522.4,711.6 522.4,717.6" fill="#000" stroke="#000" stroke-width="0.4" stroke-linejoin="round"/>
<polyline points="654.9,714.6 733,714.6" fill="none" stroke="#000" stroke-width="1.1" stroke-linecap="butt" stroke-linejoin="round"/>
<polygon points="740.8,714.6 731.8,717.6 731.8,711.6" fill="#000" stroke="#000" stroke-width="0.4" stroke-linejoin="round"/>
<text transform="translate(618.44,720.70) scale(1.0550,1)" font-size="18">548</text>
<text transform="translate(755.87,792.20) scale(1.0613,1)" font-size="18">Размеры в мм</text>
</svg>
</body></html>
